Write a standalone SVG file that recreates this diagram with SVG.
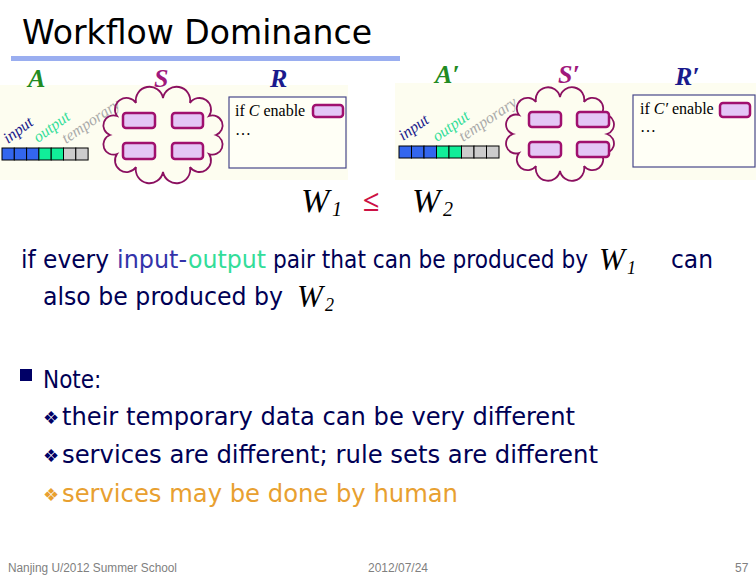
<svg xmlns="http://www.w3.org/2000/svg" width="756" height="576" viewBox="0 0 756 576">
<style>
.lbl{font-family:"Liberation Serif",serif;font-weight:bold;font-style:italic;font-size:26px}
.rot{font-family:"Liberation Serif",serif;font-style:italic;font-size:16px}
.cloud{fill:none;stroke:#8b1060;stroke-width:1.8}
.svc{fill:#e4c6f6;stroke:#a0106e;stroke-width:2.5}
.rbox{fill:#fffff6;stroke:#48488a;stroke-width:1.2}
.rtxt{font-family:"Liberation Serif",serif;font-size:16px;fill:#000}
.cell{stroke:#000;stroke-width:1}
.body{font-family:"DejaVu Sans Condensed","DejaVu Sans",sans-serif;font-size:24px;fill:#000055}
.inp{fill:#3333aa}.outp{fill:#33dd99}.human{fill:#e8a030}
.math{font-family:"Liberation Serif",serif;font-style:italic;fill:#000}
.foot{font-family:"Liberation Sans",sans-serif;font-size:12px;fill:#808080}
.blt{font-family:"DejaVu Sans",sans-serif;font-size:18px}
.b{fill:#3366ee}.g{fill:#11ee99}.y{fill:#cccccc}
</style>
<rect width="756" height="576" fill="#ffffff"/>
<g id="title">
<text x="22" y="44" font-family="'DejaVu Sans',sans-serif" font-size="33" textLength="350" lengthAdjust="spacingAndGlyphs" fill="#000">Workflow Dominance</text>
<rect x="11" y="56" width="389" height="5" fill="#9aaef0"/>
</g>
<g id="panel-w1">
<rect x="0" y="85" width="348" height="95" fill="#fdfdf0"/>
<text class="lbl" x="28" y="87" fill="#228b22">A</text>
<text class="lbl" x="154" y="87" fill="#a0187c">S</text>
<text class="lbl" x="270" y="87" fill="#1a1a8c">R</text>
<g id="a1-data">
<text class="rot" transform="translate(8,144) rotate(-37)" fill="#1a1a8c">input</text>
<text class="rot" transform="translate(38,143) rotate(-36)" fill="#33dd99">output</text>
<text class="rot" transform="translate(66,144) rotate(-34)" fill="#aaaaaa">temporary</text>
<rect class="cell b" x="2" y="148" width="12.3" height="12"/>
<rect class="cell b" x="14.3" y="148" width="12.3" height="12"/>
<rect class="cell b" x="26.6" y="148" width="12.3" height="12"/>
<rect class="cell g" x="38.9" y="148" width="12.3" height="12"/>
<rect class="cell g" x="51.2" y="148" width="12.3" height="12"/>
<rect class="cell y" x="63.5" y="148" width="12.3" height="12"/>
<rect class="cell y" x="75.8" y="148" width="12.3" height="12"/>
</g>
<g id="s1-services">
<path class="cloud" d="M216,135 A1 1 0 0 1 209,154 A1 1 0 0 1 190,167 A1 1 0 0 1 163,172 A1 1 0 0 1 136,167 A1 1 0 0 1 117,154 A1 1 0 0 1 110,135 A1 1 0 0 1 117,116 A1 1 0 0 1 136,103 A1 1 0 0 1 163,98 A1 1 0 0 1 190,103 A1 1 0 0 1 209,116 A1 1 0 0 1 216,135 Z"/>
<rect class="svc" x="123" y="113" width="32" height="15" rx="3"/>
<rect class="svc" x="172" y="113" width="31" height="15" rx="3"/>
<rect class="svc" x="123" y="143" width="32" height="16" rx="3"/>
<rect class="svc" x="172" y="143" width="31" height="16" rx="3"/>
</g>
<g id="r1-rules">
<rect class="rbox" x="229" y="97" width="117" height="71"/>
<text class="rtxt" x="235" y="116">if <tspan font-style="italic">C</tspan> enable</text>
<rect class="svc" x="313" y="105" width="30" height="12" rx="3" stroke-width="2"/>
<text class="rtxt" x="235" y="135">…</text>
</g>
</g>
<g id="panel-w2">
<rect x="395" y="83" width="361" height="97" fill="#fdfdf0"/>
<text class="lbl" x="435" y="83" fill="#228b22">A′</text>
<text class="lbl" x="558" y="83" fill="#a0187c">S′</text>
<text class="lbl" x="675" y="85" fill="#1a1a8c">R′</text>
<g id="a2-data">
<text class="rot" transform="translate(403,141) rotate(-35)" fill="#1a1a8c">input</text>
<text class="rot" transform="translate(437,142) rotate(-35)" fill="#33dd99">output</text>
<text class="rot" transform="translate(463,142) rotate(-34)" fill="#aaaaaa">temporary</text>
<rect class="cell b" x="399" y="146" width="12.5" height="12"/>
<rect class="cell b" x="411.5" y="146" width="12.5" height="12"/>
<rect class="cell b" x="424" y="146" width="12.5" height="12"/>
<rect class="cell g" x="436.5" y="146" width="12.5" height="12"/>
<rect class="cell g" x="449" y="146" width="12.5" height="12"/>
<rect class="cell y" x="461.5" y="146" width="12.5" height="12"/>
<rect class="cell y" x="474" y="146" width="12.5" height="12"/>
<rect class="cell y" x="486.5" y="146" width="12.5" height="12"/>
</g>
<g id="s2-services">
<path class="cloud" d="M607,134 A1 1 0 0 1 601,153 A1 1 0 0 1 584,166 A1 1 0 0 1 560,171 A1 1 0 0 1 536,166 A1 1 0 0 1 519,153 A1 1 0 0 1 513,134 A1 1 0 0 1 519,115 A1 1 0 0 1 536,102 A1 1 0 0 1 560,97 A1 1 0 0 1 584,102 A1 1 0 0 1 601,115 A1 1 0 0 1 607,134 Z"/>
<rect class="svc" x="529" y="112" width="32" height="15" rx="3"/>
<rect class="svc" x="577" y="112" width="32" height="15" rx="3"/>
<rect class="svc" x="529" y="142" width="32" height="15" rx="3"/>
<rect class="svc" x="577" y="142" width="32" height="15" rx="3"/>
</g>
<g id="r2-rules">
<rect class="rbox" x="633" y="95" width="122" height="72"/>
<text class="rtxt" x="640" y="114">if <tspan font-style="italic">C′</tspan> enable</text>
<rect class="svc" x="720" y="103" width="30" height="14" rx="3" stroke-width="2"/>
<text class="rtxt" x="640" y="132">…</text>
</g>
</g>
<g id="relation">
<text class="math" x="301" y="212" font-size="34">W</text>
<text class="math" x="332" y="216" font-size="20" font-style="normal">1</text>
<text x="363" y="211" font-family="'Liberation Serif',serif" font-size="30" font-weight="bold" fill="#cc1144">≤</text>
<text class="math" x="412" y="212" font-size="34">W</text>
<text class="math" x="443" y="216" font-size="20" font-style="normal">2</text>
</g>
<g id="definition">
<text class="body" x="21" y="268" textLength="88" lengthAdjust="spacingAndGlyphs">if every</text>
<text class="body inp" x="117" y="268" textLength="70" lengthAdjust="spacingAndGlyphs">input-</text>
<text class="body outp" x="188" y="268" textLength="78" lengthAdjust="spacingAndGlyphs">output</text>
<text class="body" x="273" y="268" textLength="315" lengthAdjust="spacingAndGlyphs">pair that can be produced by</text>
<text class="math" x="599" y="270" font-size="31">W</text>
<text class="math" x="627" y="274" font-size="18" font-style="normal">1</text>
<text class="body" x="671" y="268" textLength="42" lengthAdjust="spacingAndGlyphs">can</text>
<text class="body" x="43" y="305" textLength="240" lengthAdjust="spacingAndGlyphs">also be produced by</text>
<text class="math" x="297" y="307" font-size="31">W</text>
<text class="math" x="325" y="311" font-size="18" font-style="normal">2</text>
</g>
<g id="notes">
<rect x="20" y="369" width="12" height="12" fill="#000066"/>
<text class="body" x="43" y="388">Note:</text>
<text class="blt" x="43" y="424" fill="#000066">❖</text>
<text class="body" x="62" y="425" textLength="513" lengthAdjust="spacingAndGlyphs">their temporary data can be very different</text>
<text class="blt" x="43" y="462" fill="#000066">❖</text>
<text class="body" x="62" y="463" textLength="536" lengthAdjust="spacingAndGlyphs">services are different; rule sets are different</text>
<text class="blt" x="43" y="501" fill="#e8a030">❖</text>
<text class="body human" x="62" y="502" textLength="396" lengthAdjust="spacingAndGlyphs">services may be done by human</text>
</g>
<g id="footer">
<text class="foot" x="8" y="572" textLength="169" lengthAdjust="spacingAndGlyphs">Nanjing U/2012 Summer School</text>
<text class="foot" x="368" y="572" textLength="60" lengthAdjust="spacingAndGlyphs">2012/07/24</text>
<text class="foot" x="735" y="572">57</text>
</g>
</svg>
